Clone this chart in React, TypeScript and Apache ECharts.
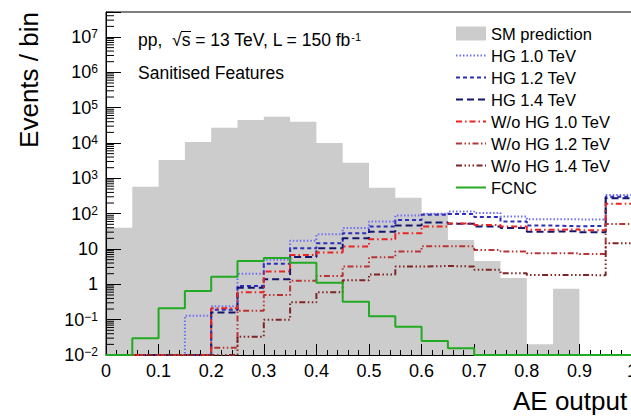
import React, { useEffect, useRef } from 'react';
import * as echarts from 'echarts';

// ---- data ----
const binLow = [0, 0.05, 0.1, 0.15, 0.2, 0.25, 0.3, 0.35, 0.4, 0.45, 0.5, 0.55, 0.6, 0.65, 0.7, 0.75, 0.8, 0.85, 0.9, 0.95];
const xMax = 1.0;
const xTickLabels = ['0', '0.1', '0.2', '0.3', '0.4', '0.5', '0.6', '0.7', '0.8', '0.9', '1'];
const yMin = 0.01;
const yMax = 5.1e7;

const smPrediction = [40, 575, 3300, 10700, 27000, 45000, 55000, 40000, 10000, 2750, 540, 280, 105, 18, 4.6, 1.5, 0.02, 0.75, 0.01, 0.01];
const hg10 = [0.01, 0.01, 0.01, 0.13, 0.24, 2.0, 5.0, 17, 26, 39, 60, 89, 100, 115, 105, 83, 70, 69, 68, 340];
const hg12 = [0.01, 0.01, 0.01, 0.01, 0.19, 0.9, 3.8, 10.5, 14.5, 28, 43, 66, 93, 98, 80, 60, 46, 44, 45, 300];
const hg14 = [0.01, 0.01, 0.01, 0.01, 0.16, 0.8, 1.4, 5.9, 10.5, 20, 31, 46, 56, 52, 43, 39, 31, 32, 30, 275];
const woHg10 = [0.01, 0.01, 0.01, 0.01, 0.21, 0.6, 2.3, 6.8, 8, 11.7, 19, 28, 43, 53, 48, 43, 35, 36, 34, 190];
const woHg12 = [0.01, 0.01, 0.01, 0.01, 0.016, 0.18, 0.5, 1.26, 1.73, 3.2, 5.8, 8.5, 12, 12, 9.4, 8.5, 7.6, 7.6, 7.2, 51];
const woHg14 = [0.01, 0.01, 0.01, 0.01, 0.01, 0.033, 0.1, 0.31, 0.6, 1.3, 1.9, 3.2, 3.3, 3.2, 2.6, 2.05, 1.85, 1.85, 1.8, 14.5];
const fcnc = [0.01, 0.03, 0.21, 0.65, 1.65, 4.6, 5.6, 4.1, 1.1, 0.32, 0.125, 0.063, 0.025, 0.0155, 0.01, 0.01, 0.01, 0.01, 0.01, 0.01];

const lineSeriesDefs = [
  { name: 'HG 1.0 TeV', data: hg10, color: '#6f6ff5', dash: [1.5, 2] },
  { name: 'HG 1.2 TeV', data: hg12, color: '#2e2eb8', dash: [4, 3] },
  { name: 'HG 1.4 TeV', data: hg14, color: '#14146e', dash: [7, 4] },
  { name: 'W/o HG 1.0 TeV', data: woHg10, color: '#e82424', dash: [6, 3, 1.5, 3] },
  { name: 'W/o HG 1.2 TeV', data: woHg12, color: '#b83434', dash: [6, 2.5, 1.5, 2.5, 1.5, 2.5] },
  { name: 'W/o HG 1.4 TeV', data: woHg14, color: '#7e2424', dash: [6, 2.5, 1.5, 2.5, 1.5, 2.5, 1.5, 2.5] },
  { name: 'FCNC', data: fcnc, color: '#22aa22', dash: 'solid' as any },
];

const FONT = '"Liberation Sans", Arial, Helvetica, sans-serif';

function toStep(vals: number[]) {
  const pts: number[][] = binLow.map((x, i) => [x, vals[i]]);
  pts.push([xMax, vals[vals.length - 1]]);
  return pts;
}

function minorLogTicks() {
  const out: number[][] = [];
  for (let e = -2; e <= 7; e++) {
    for (let k = 2; k <= 9; k++) {
      const v = k * Math.pow(10, e);
      if (v < yMax) out.push([0, v]);
    }
  }
  return out;
}

export default function App() {
  const ref = useRef<HTMLDivElement>(null);
  useEffect(() => {
    if (!ref.current) return;
    const chart = echarts.init(ref.current, null, { renderer: 'svg' });
    const option: any = {
      animation: false,
      backgroundColor: '#ffffff',
      grid: {
        left: 106,
        top: 12,
        width: 526,
        height: 343,
        show: true,
        borderColor: '#000',
        borderWidth: 1,
        backgroundColor: 'transparent',
        outerBoundsMode: 'none',
        containLabel: false,
      },
      xAxis: {
        type: 'value',
        min: 0,
        max: xMax,
        interval: 0.1,
        z: 2,
        axisLine: { show: true, lineStyle: { color: '#000', width: 1 } },
        axisTick: { show: true, inside: true, length: 11, lineStyle: { color: '#000' } },
        minorTick: { show: true, splitNumber: 5, length: 5, lineStyle: { color: '#000' } },
        splitLine: { show: false },
        axisLabel: {
          margin: 7,
          fontSize: 18,
          fontFamily: FONT,
          color: '#000',
          formatter: (v: number) => xTickLabels[Math.round(v * 10)] ?? '',
        },
      },
      yAxis: {
        type: 'log',
        logBase: 10,
        min: yMin,
        max: yMax,
        splitNumber: 10,
        z: 2,
        axisLine: { show: true, lineStyle: { color: '#000', width: 1 } },
        axisTick: { show: true, inside: true, length: 15, lineStyle: { color: '#000' } },
        splitLine: { show: false },
        axisLabel: {
          margin: 8,
          fontSize: 18,
          fontFamily: FONT,
          color: '#000',
          formatter: (v: number) => {
            const e = Math.log10(v);
            const r = Math.round(e);
            if (Math.abs(e - r) > 1e-6) return '';
            if (r === 0) return '1';
            if (r === 1) return '10';
            return '10{sup|' + (r < 0 ? '\u2212' + -r : String(r)) + '}';
          },
          rich: {
            sup: { fontSize: 12, fontFamily: FONT, color: '#000', verticalAlign: 'top', lineHeight: 12 },
          },
        },
      },
      legend: {
        show: true,
        orient: 'vertical',
        left: 455,
        top: 25,
        padding: 0,
        itemWidth: 30,
        itemHeight: 14,
        itemGap: 5.0,
        selectedMode: false,
        itemStyle: { opacity: 0 },
        textStyle: { fontSize: 16.5, fontFamily: FONT, color: '#000' },
        data: [
          { name: 'SM prediction', icon: 'rect', itemStyle: { opacity: 1, color: '#cccccc' } },
          ...lineSeriesDefs.map((d) => ({ name: d.name })),
        ],
      },
      series: [
        {
          name: 'SM prediction',
          type: 'line',
          step: 'end',
          symbol: 'none',
          data: toStep(smPrediction),
          color: '#cccccc',
          itemStyle: { color: '#cccccc' },
          lineStyle: { width: 0, color: '#cccccc' },
          areaStyle: { color: '#cccccc', opacity: 1, origin: 'start' },
          z: 1,
        },
        {
          name: 'minorTicks',
          type: 'custom',
          silent: true,
          z: 2,
          clip: false,
          data: minorLogTicks(),
          renderItem: (params: any, api: any) => {
            const p = api.coord([0, api.value(1)]);
            return {
              type: 'line',
              shape: { x1: p[0], y1: p[1], x2: p[0] + 8, y2: p[1] },
              style: { stroke: '#000', lineWidth: 1 },
            };
          },
        },
        ...lineSeriesDefs.map((d) => ({
          name: d.name,
          type: 'line',
          step: 'end',
          symbol: 'none',
          clip: false,
          data: toStep(d.data),
          color: d.color,
          itemStyle: { color: d.color },
          lineStyle: { color: d.color, width: 2, type: d.dash },
          z: 3,
        })),
      ],
      graphic: [
        {
          type: 'text',
          x: 138,
          y: 40,
          style: {
            text: 'pp,  \u221As = 13 TeV, L = 150 fb{sup|-1}',
            fontSize: 17.5,
            fontFamily: FONT,
            fill: '#000',
            textVerticalAlign: 'middle',
            rich: { sup: { fontSize: 11, fontFamily: FONT, fill: '#000', verticalAlign: 'top', lineHeight: 11 } },
          },
          z: 10,
        },
        {
          type: 'line',
          shape: { x1: 181, y1: 31.5, x2: 191, y2: 31.5 },
          style: { stroke: '#000', lineWidth: 1 },
          z: 10,
        },
        {
          type: 'text',
          x: 138,
          y: 73,
          style: { text: 'Sanitised Features', fontSize: 17.5, fontFamily: FONT, fill: '#000', textVerticalAlign: 'middle' },
          z: 10,
        },
        {
          type: 'text',
          x: 29,
          y: 80,
          rotation: Math.PI / 2,
          style: { text: 'Events / bin', fontSize: 26, fontFamily: FONT, fill: '#000', textAlign: 'center', textVerticalAlign: 'middle' },
          z: 10,
        },
        {
          type: 'text',
          x: 513,
          y: 401,
          style: { text: 'AE output', fontSize: 26, fontFamily: FONT, fill: '#000', textAlign: 'left', textVerticalAlign: 'middle' },
          z: 10,
        },
      ],
    };
    chart.setOption(option);
    return () => chart.dispose();
  }, []);
  return <div ref={ref} style={{ width: 631, height: 416, position: 'absolute', left: 0, top: 0 }} />;
}
